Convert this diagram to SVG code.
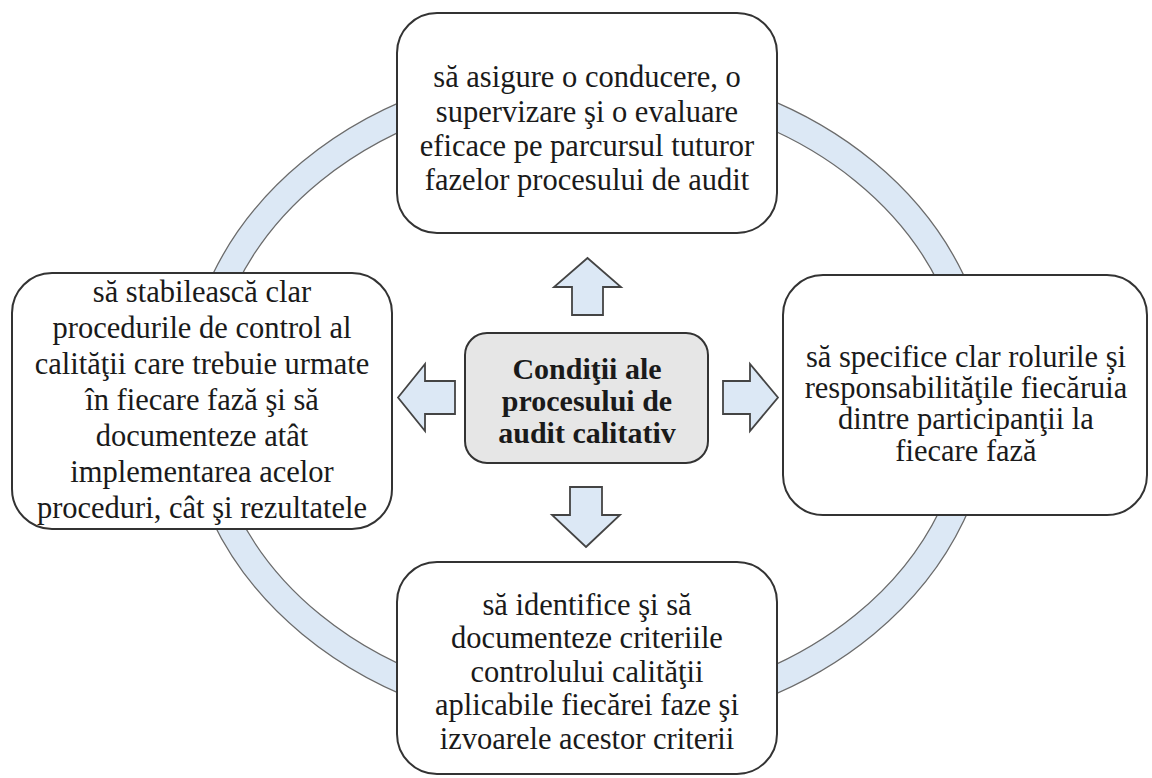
<svg xmlns="http://www.w3.org/2000/svg" width="1152" height="778" viewBox="0 0 1152 778">
  <style>
    .box { fill: #ffffff; stroke: #333333; stroke-width: 2; }
    .hub { fill: #e6e6e6; stroke: #333333; stroke-width: 2; }
    .ring { fill: #dce8f5; stroke: #6b6b6b; stroke-width: 1.3; fill-rule: evenodd; }
    .arrow { fill: #dce8f5; stroke: #444444; stroke-width: 1.8; stroke-linejoin: miter; }
    text { font-family: 'Liberation Serif', 'Times New Roman', serif; font-size: 30.5px; fill: #1a1a1a; text-anchor: middle; }
    .bold { font-weight: bold; font-size: 30px; }
  </style>

  <rect width="1152" height="778" fill="#ffffff"/>

  <!-- cycle ring behind the four boxes -->
  <g id="cycle">
    <path class="ring" d="M184,398 a404,334 0 1,0 808,0 a404,334 0 1,0 -808,0 Z M210,398 a378,307 0 1,0 756,0 a378,307 0 1,0 -756,0 Z"/>
  </g>

  <!-- block arrows from the centre outwards -->
  <g id="connectors">
    <polygon class="arrow" points="587.5,258 621,287 603,287 603,315 572,315 572,287 554,287"/>
    <polygon class="arrow" points="398,397.5 425,364 425,381 455,381 455,414 425,414 425,431"/>
    <polygon class="arrow" points="778,397.5 750,364 750,381 723,381 723,414 750,414 750,431"/>
    <polygon class="arrow" points="586,547 620,515 602,515 602,487 570,487 570,515 552,515"/>
  </g>

  <g id="node-top">
    <rect class="box" x="397" y="13" width="380" height="220" rx="40"/>
    <text x="587" y="87">să asigure o conducere, o</text>
    <text x="587" y="122">supervizare şi o evaluare</text>
    <text x="587" y="156">eficace pe parcursul tuturor</text>
    <text x="587" y="190">fazelor procesului de audit</text>
  </g>

  <g id="node-left">
    <rect class="box" x="12" y="273" width="380" height="256" rx="40"/>
    <text x="202" y="302">să stabilească clar</text>
    <text x="202" y="338">procedurile de control al</text>
    <text x="202" y="374">calităţii care trebuie urmate</text>
    <text x="202" y="410">în fiecare fază şi să</text>
    <text x="202" y="446">documenteze atât</text>
    <text x="202" y="482">implementarea acelor</text>
    <text x="202" y="518">proceduri, cât şi rezultatele</text>
  </g>

  <g id="node-right">
    <rect class="box" x="783" y="275" width="364" height="240" rx="40"/>
    <text x="966" y="367">să specifice clar rolurile şi</text>
    <text x="966" y="398">responsabilităţile fiecăruia</text>
    <text x="966" y="429">dintre participanţii la</text>
    <text x="966" y="461">fiecare fază</text>
  </g>

  <g id="node-bottom">
    <rect class="box" x="397" y="562" width="380" height="212" rx="40"/>
    <text x="587" y="615">să identifice şi să</text>
    <text x="587" y="648">documenteze criteriile</text>
    <text x="587" y="682">controlului calităţii</text>
    <text x="587" y="715">aplicabile fiecărei faze şi</text>
    <text x="587" y="749">izvoarele acestor criterii</text>
  </g>

  <g id="node-center">
    <rect class="hub" x="465" y="333" width="243" height="130" rx="22"/>
    <text class="bold" x="587" y="379">Condiţii ale</text>
    <text class="bold" x="587" y="411">procesului de</text>
    <text class="bold" x="587" y="443">audit calitativ</text>
  </g>
</svg>
